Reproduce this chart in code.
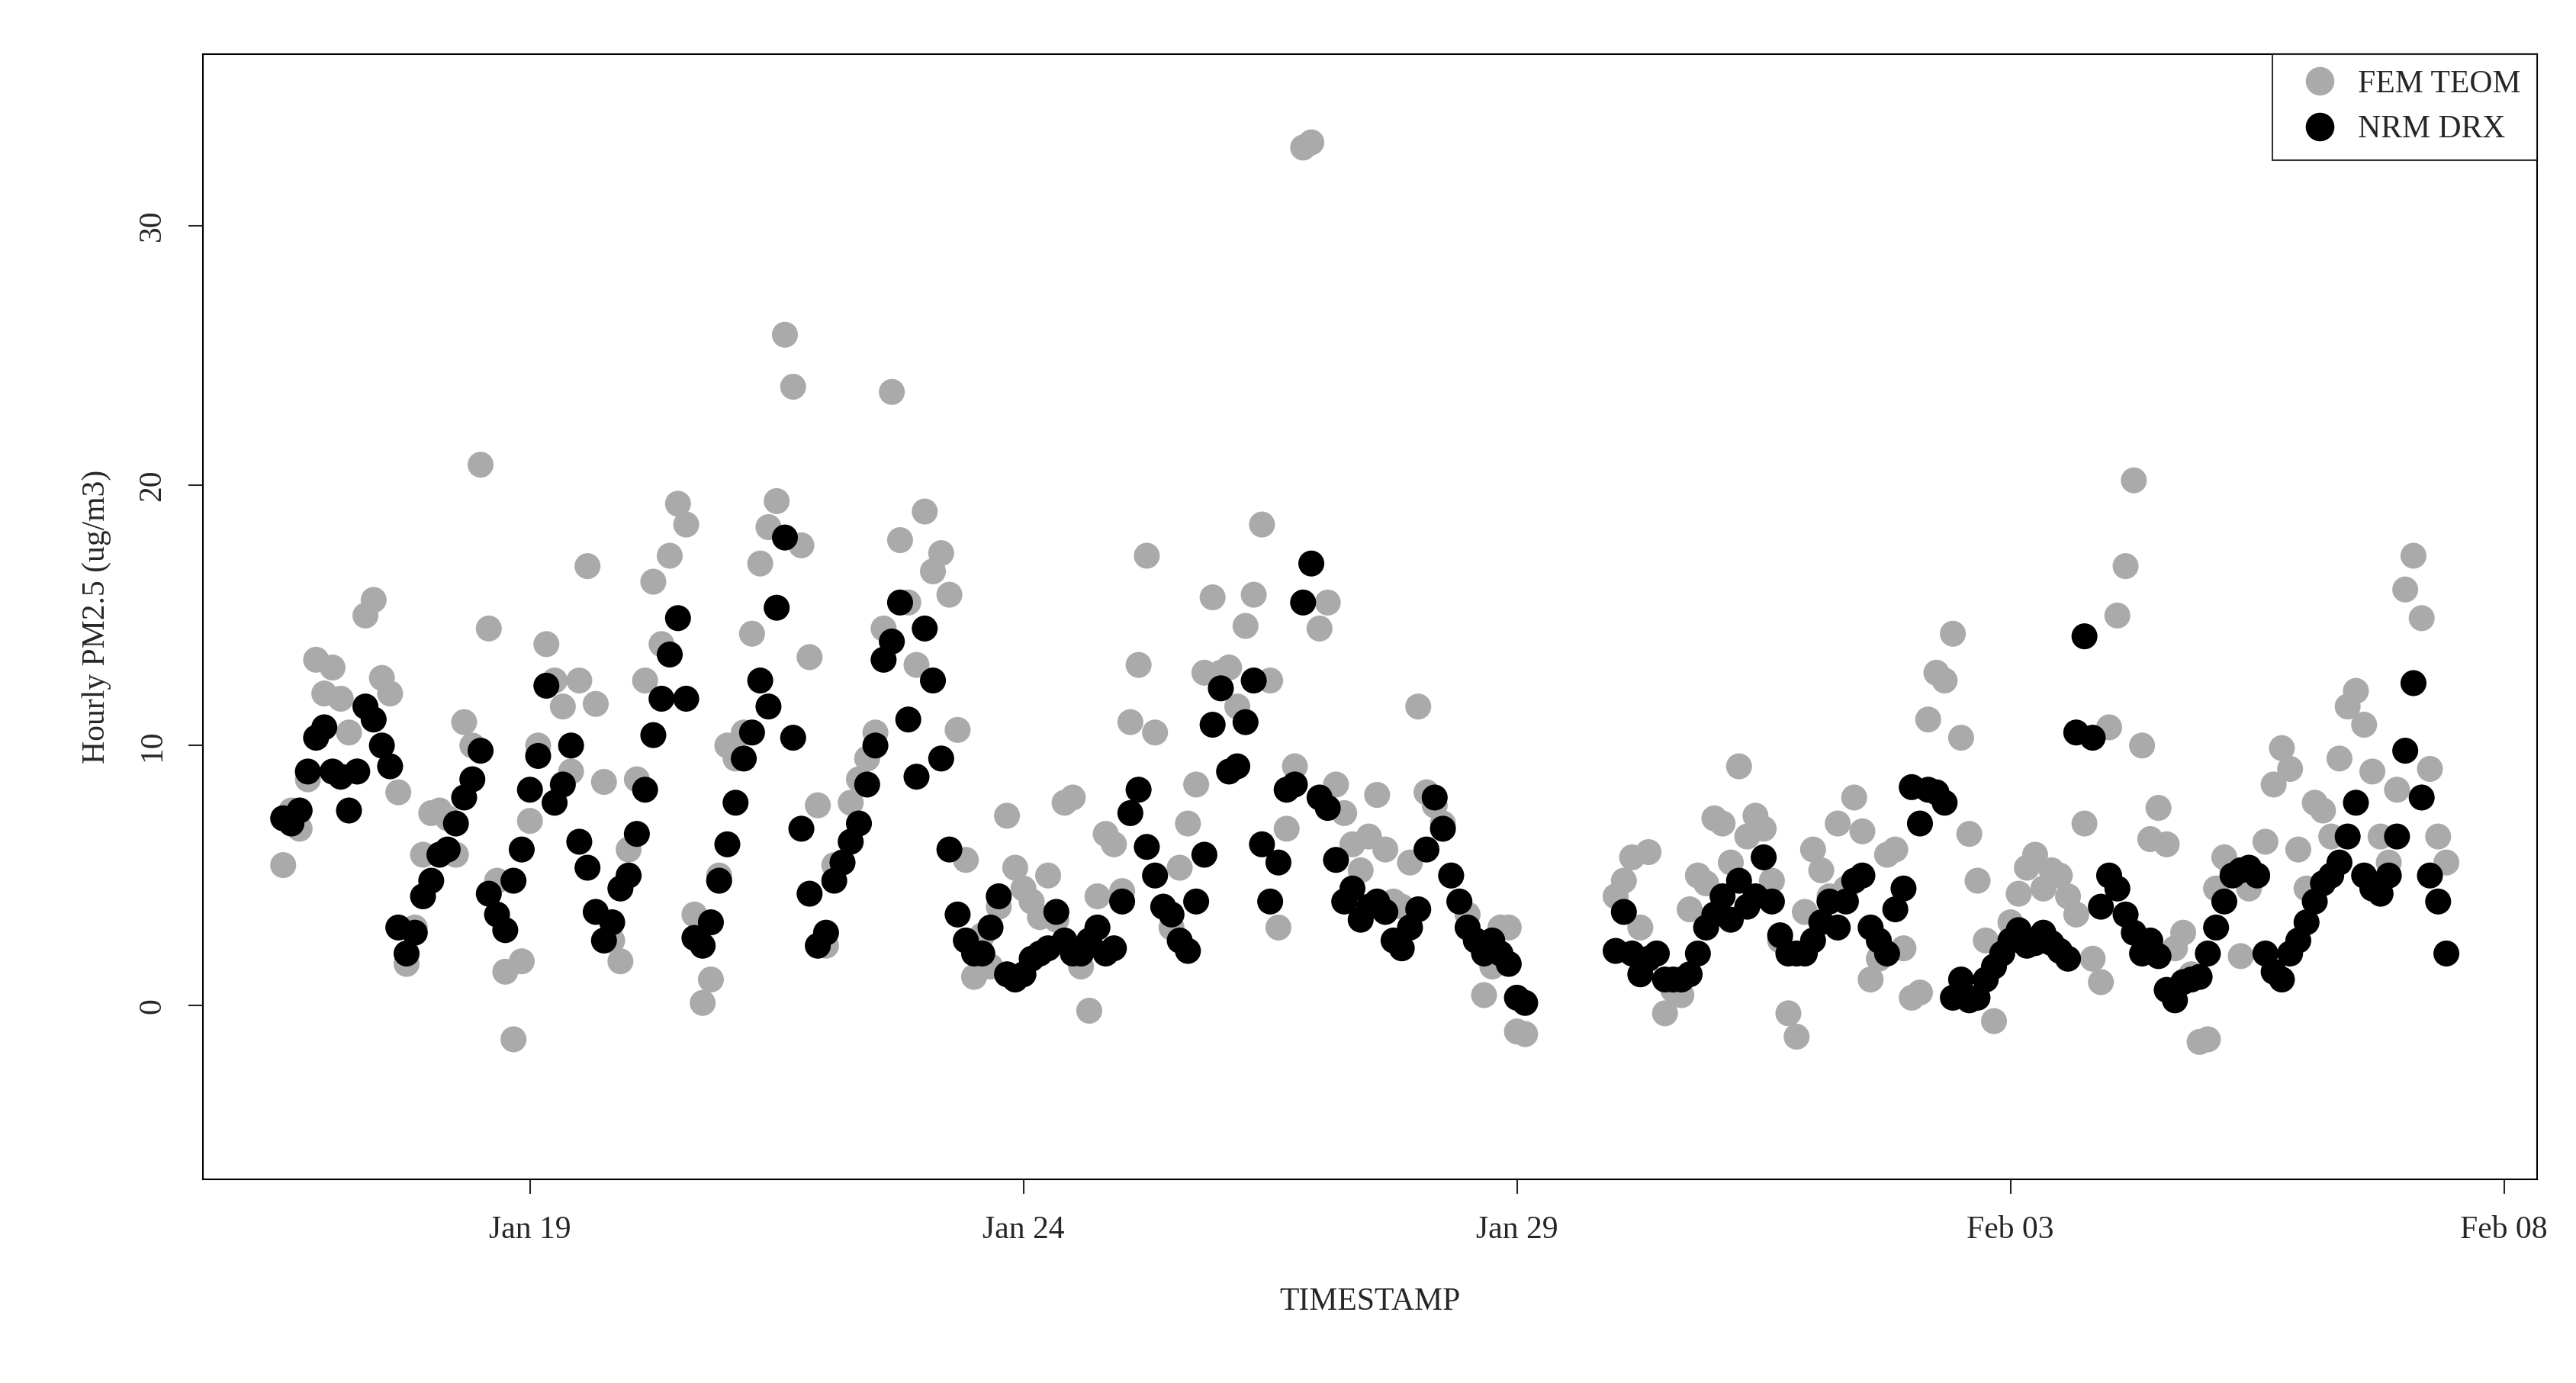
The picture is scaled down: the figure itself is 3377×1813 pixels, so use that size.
import numpy as np, pandas as pd, matplotlib
matplotlib.use("Agg")
import matplotlib.pyplot as plt, seaborn as sns
import matplotlib.dates as mdates

nan = np.nan
# 2-hourly readings, starting 2021-01-16 12:00
drx_days = [
 [7.2,7,7.5,9,10.3,10.7],
 [9,8.8,7.5,9,11.5,11,10,9.2,3,2,2.8,4.2],
 [4.8,5.8,6,7,8,8.7,9.8,4.3,3.5,2.9,4.8,6],
 [8.3,9.6,12.3,7.8,8.5,10,6.3,5.3,3.6,2.5,3.2,4.5],
 [5,6.6,8.3,10.4,11.8,13.5,14.9,11.8,2.6,2.3,3.2,4.8],
 [6.2,7.8,9.5,10.5,12.5,11.5,15.3,18,10.3,6.8,4.3,2.3],
 [2.8,4.8,5.5,6.3,7,8.5,10,13.3,14,15.5,11,8.8],
 [14.5,12.5,9.5,6,3.5,2.5,2,2,3,4.2,1.2,1],
 [1.2,1.8,2,2.2,3.6,2.5,2,2,2.5,3,2,2.2],
 [4,7.4,8.3,6.1,5,3.8,3.5,2.5,2.1,4,5.8,10.8],
 [12.2,9,9.2,10.9,12.5,6.2,4,5.5,8.3,8.5,15.5,17],
 [8,7.6,5.6,4,4.5,3.3,3.8,4,3.6,2.5,2.2,3],
 [3.7,6,8,6.8,5,4,3,2.5,2,2.5,2,1.6],
 [0.3,0.1,nan,nan,nan,nan,nan,nan,nan,nan,nan,nan],
 [2.1,3.6,2,1.2,1.8,2,1,1,1,1.2,2,3],
 [3.5,4.2,3.3,4.8,3.8,4.2,5.7,4,2.7,2,2,2],
 [2.5,3.2,4,3,4,4.8,5,3,2.5,2,3.7,4.5],
 [8.4,7,8.3,8.2,7.8,0.3,1,0.2,0.3,1,1.5,2],
 [2.5,2.9,2.3,2.4,2.8,2.4,2.1,1.8,10.5,14.2,10.3,3.8],
 [5,4.5,3.5,2.8,2,2.5,1.9,0.6,0.2,0.9,1,1.1],
 [2,3,4,5,5.2,5.3,5,2,1.3,1,2,2.5],
 [3.2,4,4.7,5,5.5,6.5,7.8,5,4.5,4.3,5,6.5],
 [9.8,12.4,8,5,4,2],
]
teom_days = [
 [5.4,7.5,6.8,8.7,13.3,12],
 [13,11.8,10.5,9,15,15.6,12.6,12,8.2,1.6,3,5.8],
 [7.4,7.5,7.2,5.8,10.9,10,20.8,14.5,4.8,1.3,-1.3,1.7],
 [7.1,10,13.9,12.5,11.5,9,12.5,16.9,11.6,8.6,2.5,1.7],
 [6,8.7,12.5,16.3,13.9,17.3,19.3,18.5,3.5,0.1,1,5],
 [10,9.5,10.5,14.3,17,18.4,19.4,25.8,23.8,17.7,13.4,7.7],
 [2.3,5.4,5.5,7.8,8.7,9.5,10.5,14.5,23.6,17.9,15.5,13.1],
 [19,16.7,17.4,15.8,10.6,5.6,1.1,2.7,1.5,3.8,7.3,5.3],
 [4.5,4,3.4,5,3.3,7.8,8,1.5,-0.2,4.2,6.6,6.2],
 [4.4,10.9,13.1,17.3,10.5,3.8,3,5.3,7,8.5,12.8,15.7],
 [12.8,13,11.5,14.6,15.8,18.5,12.5,3,6.8,9.2,33,33.2],
 [14.5,15.5,8.5,7.4,6.2,5.2,6.5,8.1,6,4,3.8,5.5],
 [11.5,8.2,7.7,7,5,4,3.5,2.5,0.4,1.5,3,3],
 [-1,-1.1,nan,nan,nan,nan,nan,nan,nan,nan,nan,nan],
 [4.2,4.8,5.7,3,5.9,2,-0.3,0.6,0.4,3.7,5,4.7],
 [7.2,7,5.5,9.2,6.5,7.3,6.8,4.8,2.5,-0.3,-1.2,3.6],
 [6,5.2,4.2,7,4.5,8,6.7,1,1.8,5.8,6,2.2],
 [0.3,0.5,11,12.8,12.5,14.3,10.3,6.6,4.8,2.5,-0.6,2],
 [3.2,4.3,5.3,5.8,4.5,5.2,5,4.2,3.5,7,1.8,0.9],
 [10.7,15,16.9,20.2,10,6.4,7.6,6.2,2.2,2.8,1.2,-1.4],
 [-1.3,4.5,5.7,5.2,1.9,4.5,5,6.3,8.5,9.9,9.1,6],
 [4.5,7.8,7.5,6.5,9.5,11.5,12.1,10.8,9,6.5,5.5,8.3],
 [16,17.3,14.9,9.1,6.5,5.5],
]
drx = [v for d in drx_days for v in d]
teom = [v for d in teom_days for v in d]
times = pd.date_range("2021-01-16 12:00", periods=len(drx), freq="2h")

df = pd.concat([
    pd.DataFrame({"t": times, "v": teom, "s": "FEM TEOM"}),
    pd.DataFrame({"t": times, "v": drx, "s": "NRM DRX"}),
]).dropna()

sns.set_style("white")
plt.rcParams["font.family"] = ["Liberation Serif", "DejaVu Serif"]
fig = plt.figure(figsize=(33.77, 18.13), dpi=100)
ax = fig.add_axes([0.0788, 0.147, 0.906, 0.814])
sns.scatterplot(data=df, x="t", y="v", hue="s", palette={"FEM TEOM": "#aaaaaa", "NRM DRX": "black"},
                s=600, linewidth=0, ax=ax, legend=False)
ax.set_xlim(pd.Timestamp("2021-01-15 16:30"), pd.Timestamp("2021-02-08 08:00"))
ax.set_ylim(-6.7, 36.6)
ticks = pd.to_datetime(["2021-01-19", "2021-01-24", "2021-01-29", "2021-02-03", "2021-02-08"])
ax.set_xticks(ticks)
ax.set_xticklabels(["Jan 19", "Jan 24", "Jan 29", "Feb 03", "Feb 08"], fontsize=30)
ax.set_yticks([0, 10, 20, 30])
ax.set_yticklabels(["0", "10", "20", "30"], fontsize=30, rotation=90, va="center")
ax.tick_params(length=14, width=1.5, pad=20, left=True, bottom=True)
for sp in ax.spines.values():
    sp.set_color("black"); sp.set_linewidth(1.5)
ax.set_xlabel("TIMESTAMP", fontsize=30, labelpad=40)
ax.set_ylabel("Hourly PM2.5 (ug/m3)", fontsize=30, labelpad=25)
from matplotlib.lines import Line2D
h = [Line2D([], [], marker="o", ls="", color="#aaaaaa", markersize=26),
     Line2D([], [], marker="o", ls="", color="black", markersize=26)]
leg = ax.legend(h, ["FEM TEOM", "NRM DRX"], loc="upper right", fontsize=30, frameon=True,
                fancybox=False, edgecolor="black", borderaxespad=0, handletextpad=0.2, borderpad=0.5)
leg.get_frame().set_linewidth(1.5)
fig.savefig("out.png", dpi=100)
